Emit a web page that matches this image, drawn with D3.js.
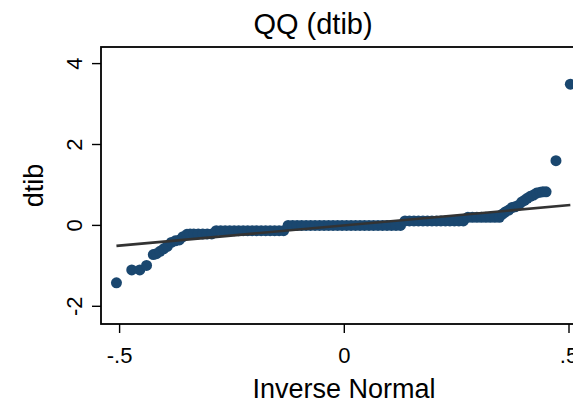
<!DOCTYPE html>
<html>
<head>
<meta charset="utf-8">
<script src="https://d3js.org/d3.v7.min.js"></script>
<style>
  body { margin: 0; background: #fff; }
  text { font-family: "Liberation Sans", Arial, sans-serif; fill: #000; }
</style>
</head>
<body>
<svg id="chart" width="573" height="403"></svg>
<script>
// inverse normal quantiles (x) and sorted dtib values (y)
var qx = [
  -0.507, -0.473, -0.455, -0.440, -0.425, -0.418, -0.410, -0.402, -0.394, -0.385,
  -0.376, -0.367, -0.359, -0.350, -0.343,
  -0.335, -0.325, -0.315, -0.305, -0.295,
  -0.285, -0.275, -0.265, -0.255, -0.245, -0.235, -0.225, -0.215, -0.205, -0.195,
  -0.185, -0.175, -0.165, -0.155, -0.145, -0.135,
  -0.125, -0.115, -0.105, -0.095, -0.085, -0.075, -0.065, -0.055, -0.045, -0.035,
  -0.025, -0.015, -0.005, 0.005, 0.015, 0.025, 0.035, 0.045, 0.055, 0.065,
  0.075, 0.085, 0.095, 0.105, 0.115, 0.125,
  0.135, 0.145, 0.155, 0.165, 0.175, 0.185, 0.195, 0.205, 0.215, 0.225,
  0.235, 0.245, 0.255, 0.265,
  0.275, 0.285, 0.295, 0.305, 0.315, 0.325, 0.335, 0.345,
  0.352, 0.358, 0.366, 0.373, 0.380, 0.388, 0.395, 0.401, 0.407, 0.414,
  0.421, 0.428, 0.436, 0.442, 0.449,
  0.471, 0.503
];
var qy = [
  -1.42, -1.10, -1.10, -0.99, -0.72, -0.70, -0.64, -0.58, -0.52, -0.42,
  -0.38, -0.36, -0.28, -0.22, -0.21,
  -0.21, -0.21, -0.21, -0.21, -0.21,
  -0.13, -0.13, -0.13, -0.13, -0.13, -0.13, -0.13, -0.13, -0.13, -0.13,
  -0.13, -0.13, -0.13, -0.13, -0.13, -0.13,
  0, 0, 0, 0, 0, 0, 0, 0, 0, 0,
  0, 0, 0, 0, 0, 0, 0, 0, 0, 0,
  0, 0, 0, 0, 0, 0,
  0.11, 0.11, 0.11, 0.11, 0.11, 0.11, 0.11, 0.11, 0.11, 0.11,
  0.11, 0.11, 0.11, 0.11,
  0.20, 0.20, 0.20, 0.20, 0.20, 0.20, 0.20, 0.20,
  0.28, 0.33, 0.38, 0.44, 0.46, 0.50, 0.58, 0.62, 0.67, 0.72,
  0.75, 0.80, 0.82, 0.83, 0.83,
  1.60, 3.49
];
var xTicks = [-0.5, 0, 0.5];
var xTickLabels = ["-.5", "0", ".5"];
var yTicks = [-2, 0, 2, 4];

var svg = d3.select("#chart");
var plotL = 101, plotT = 47, plotB = 324, plotR = 587;

var x = d3.scaleLinear().domain([-0.5, 0.5]).range([119.6, 569]);
var y = d3.scaleLinear().domain([-2, 4]).range([306.3, 63.6]);

// plot region frame (right side falls outside the picture)
svg.append("rect")
  .attr("x", plotL).attr("y", plotT)
  .attr("width", plotR - plotL).attr("height", plotB - plotT)
  .attr("fill", "none").attr("stroke", "#000").attr("stroke-width", 1.8);

// y axis
var yAxis = svg.append("g")
yAxis.selectAll("line").data(yTicks).enter().append("line")
  .attr("x1", plotL - 9).attr("x2", plotL)
  .attr("y1", function(d){ return y(d); }).attr("y2", function(d){ return y(d); })
  .attr("stroke", "#000").attr("stroke-width", 1.4);
yAxis.selectAll("text").data(yTicks).enter().append("text")
  .attr("transform", function(d){ return "translate(82," + y(d) + ") rotate(-90)"; })
  .attr("text-anchor", "middle")
  .style("font-size", "22px")
  .text(function(d){ return d; });

// x axis
var xAxis = svg.append("g")
xAxis.selectAll("line").data(xTicks).enter().append("line")
  .attr("x1", function(d){ return x(d); }).attr("x2", function(d){ return x(d); })
  .attr("y1", plotB).attr("y2", plotB + 9)
  .attr("stroke", "#000").attr("stroke-width", 1.4);
xAxis.selectAll("text").data(xTicks).enter().append("text")
  .attr("x", function(d){ return x(d); })
  .attr("y", 363)
  .attr("text-anchor", "middle")
  .style("font-size", "22px")
  .text(function(d, i){ return xTickLabels[i]; });

// points
var pts = qx.map(function(v, i){ return [v, qy[i]]; });
svg.append("g").selectAll("circle")
  .data(pts).enter().append("circle")
  .attr("cx", function(d){ return x(d[0]); })
  .attr("cy", function(d){ return y(d[1]); })
  .attr("r", 5.5)
  .attr("fill", "#1a476f");

// reference line y = x
var ext = d3.extent(qx);
svg.append("path")
  .datum([[ext[0], ext[0]], [ext[1], ext[1]]])
  .attr("d", d3.line().x(function(d){ return x(d[0]); }).y(function(d){ return y(d[1]); }))
  .attr("fill", "none").attr("stroke", "#333").attr("stroke-width", 2.6);

// titles
svg.append("text")
  .attr("x", 313).attr("y", 34)
  .attr("text-anchor", "middle")
  .style("font-size", "29px")
  .text("QQ (dtib)");

svg.append("text")
  .attr("x", 344).attr("y", 398)
  .attr("text-anchor", "middle")
  .style("font-size", "27px")
  .text("Inverse Normal");

svg.append("text")
  .attr("transform", "translate(43," + (plotT + plotB) / 2 + ") rotate(-90)")
  .attr("text-anchor", "middle")
  .style("font-size", "27px")
  .text("dtib");
</script>
</body>
</html>
